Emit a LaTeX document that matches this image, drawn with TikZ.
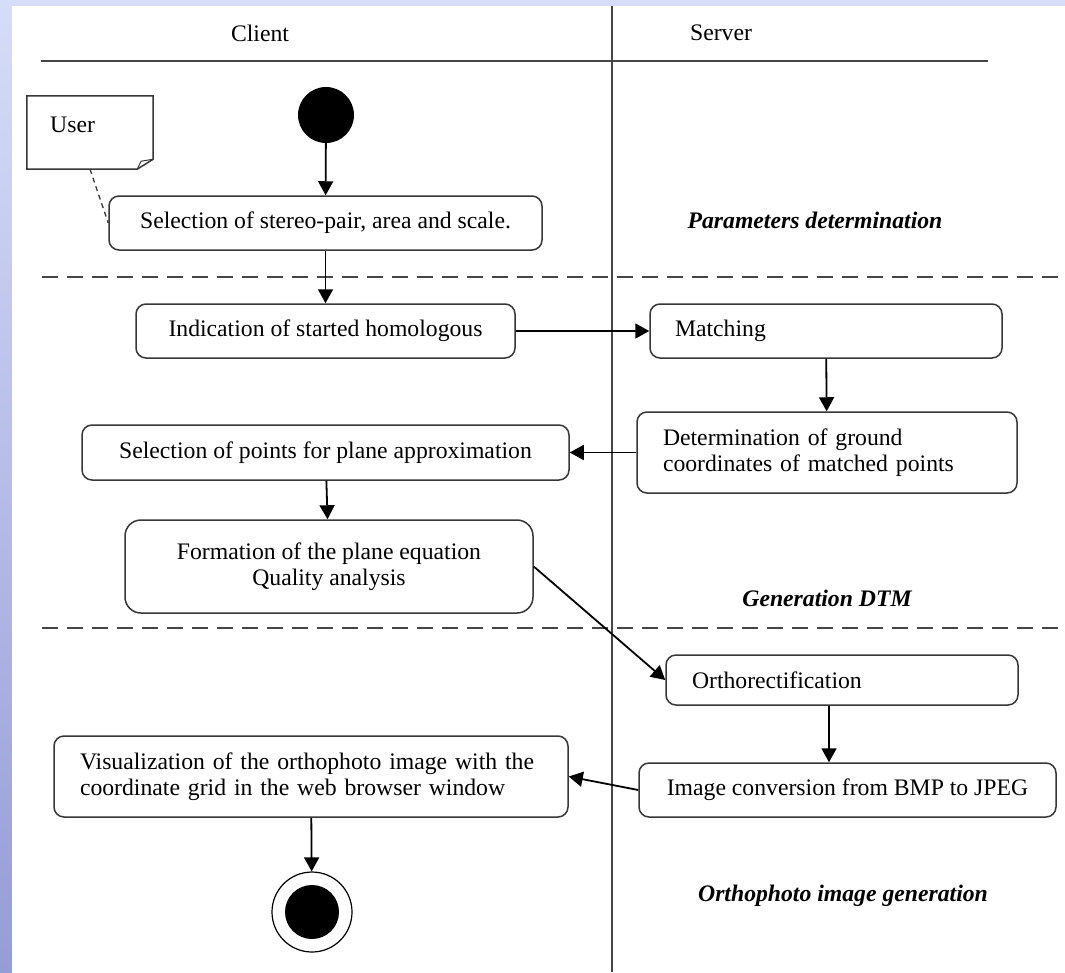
\documentclass[tikz,border=0pt]{standalone}
\usepackage{fontspec}
\setmainfont{Liberation Serif}
\usetikzlibrary{arrows.meta, calc}

\definecolor{bgtop}{RGB}{214,221,248}
\definecolor{bgbot}{RGB}{150,156,214}
\definecolor{boxgray}{RGB}{55,55,55}
\definecolor{lanegray}{RGB}{70,70,70}

\tikzset{
    act/.style={draw=boxgray, line width=1.5pt, rounded corners=10pt, fill=white,
        minimum height=54pt, inner sep=0pt, align=center},
    flow/.style={-{Triangle[length=14pt,width=15pt]}, line width=1.8pt},
    lane/.style={draw=lanegray, line width=1.5pt},
    sep/.style={draw=lanegray, line width=1.8pt, dash pattern=on 16pt off 9pt},
    phase/.style={font=\fontsize{23.7pt}{26.5pt}\selectfont\bfseries\itshape}
}

\begin{document}
\begin{tikzpicture}[x=1pt, y=-1pt, font=\fontsize{23.7pt}{26.5pt}\selectfont]
        \useasboundingbox (0,0) rectangle (1065,972);
        % background frame
        \fill[bgtop] (0,0) rectangle (1065,6);
        \shade[top color=bgtop, bottom color=bgbot] (0,0) rectangle (12,972);
        \fill[white] (12,6) rectangle (1065,972);

        % swimlanes
        \draw[lane] (41,61) -- (988,61);
        \draw[lane] (612,6) -- (612,972);
        \node (client) at (260,33) {Client};
        \node (server) at (721,33) {Server};
        \draw[sep] (42,277) -- (1065,277);
        \draw[sep] (42,628) -- (1065,628);
        \node[phase] (param) at (815,220) {Parameters determination};
        \node[phase] (gendtm) at (827,598) {Generation DTM};
        \node[phase] (genortho) at (843,896) {Orthophoto image generation};

        % note
        \node[minimum width=126pt, minimum height=73pt, inner sep=0pt] (user) at (90,132.5) {};
        \draw[boxgray, line width=1.5pt, fill=white] (user.north west) -- (user.north east)
            -- ([yshift=10pt]user.south east) -- ([xshift=-16pt]user.south east)
            -- (user.south west) -- cycle;
        \draw[boxgray, line width=1pt] ([xshift=-16pt]user.south east) -- ++(4,-8)
            -- ([yshift=10pt]user.south east);
        \node[anchor=west, inner sep=0pt] (usertxt) at (50,125) {User};

        % activities
        \node[circle, fill=black, minimum size=56pt, inner sep=0pt] (start) at (326,115) {};
        \node[act, minimum width=433pt] (sel) at (325.5,223) {Selection of stereo-pair, area and scale.};
        \node[act, minimum width=379pt] (ind) at (325.5,331) {Indication of started homologous};
        \node[act, minimum width=487pt, minimum height=55pt] (pts) at (325.5,452.5) {Selection of points for plane approximation};
        \node[act, minimum width=408pt, minimum height=93pt, rounded corners=16pt] (form) at (329,566.5) {Formation of the plane equation\\Quality analysis};
        \node[act, text width=302pt, inner xsep=25pt, align=left] (match) at (826,331) {Matching};
        \node[act, text width=328pt, inner xsep=26pt, align=left, minimum height=81pt] (det) at (827,452.5) {Determination of ground\\coordinates of matched points};
        \node[act, text width=300pt, inner xsep=26pt, align=left, minimum height=50pt] (ortho) at (842,680) {Orthorectification};
        \node[act, minimum width=417pt] (img) at (847.5,790) {Image conversion from BMP to JPEG};
        \node[act, text width=462pt, inner xsep=26pt, align=left, minimum height=81pt] (vis) at (311,776.5) {Visualization of the orthophoto image with the\\coordinate grid in the web browser window};
        \node[circle, draw=black, line width=1.2pt, fill=white, minimum size=80pt, inner sep=0pt] (end) at (312,912) {};
        \node[circle, fill=black, minimum size=54pt, inner sep=0pt] (endin) at (end) {};

        % flows
        \draw[boxgray, line width=1.3pt, dash pattern=on 5pt off 4pt] (user.south) -- (sel.west);
        \draw[flow] (start) -- (sel);
        \draw[flow] (sel) -- (ind);
        \draw[flow] (ind) -- (match);
        \draw[flow] (match) -- (det);
        \draw[flow] (det) -- (pts);
        \draw[flow] (pts) -- (form);
        \draw[flow] (form.east) -- (ortho.west);
        \draw[flow] ([xshift=-13pt]ortho.south) -- ([xshift=-13pt]ortho.south |- img.north);
        \draw[flow] (img.west) -- (vis.east);
        \draw[flow] (vis) -- (end);
    \end{tikzpicture}
\end{document}
